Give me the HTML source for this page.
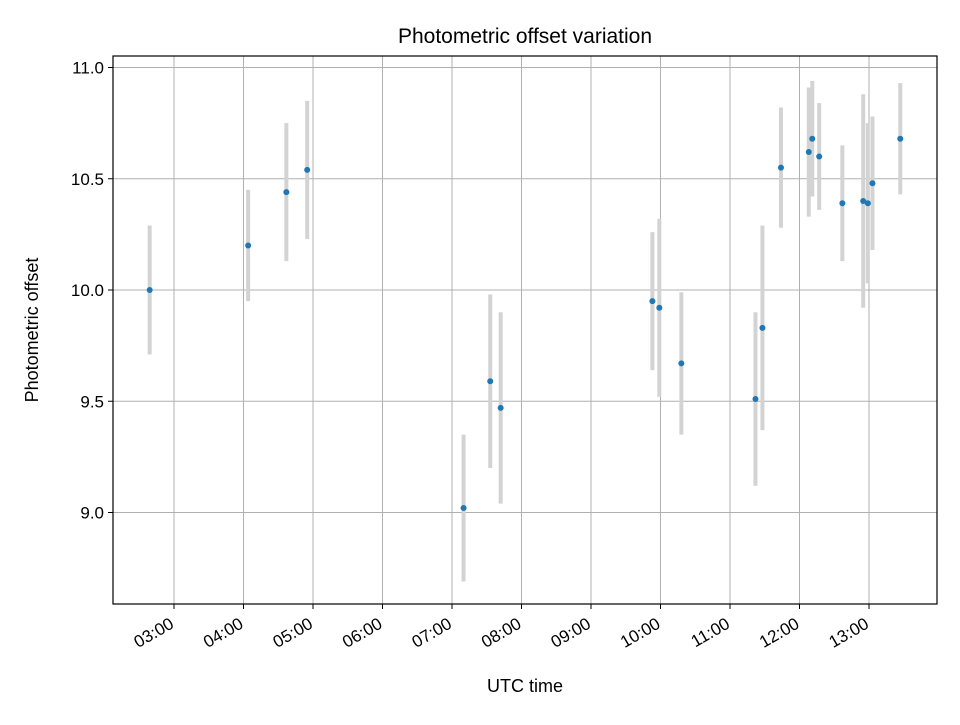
<!DOCTYPE html>
<html><head><meta charset="utf-8"><style>
body{margin:0;background:#fff;}
text{font-family:"Liberation Sans","DejaVu Sans",sans-serif;fill:#000;}
</style></head><body>
<svg id="chart" width="960" height="720" xmlns="http://www.w3.org/2000/svg">
<rect width="960" height="720" fill="#fff"/>
<text x="525" y="43" font-size="21" text-anchor="middle">Photometric offset variation</text>
<g id="grid"></g><g id="bars"></g><g id="pts"></g><g id="ticks"></g>
<rect x="113" y="56" width="824" height="548" fill="none" stroke="#000" stroke-width="1.2"/>
<text x="525" y="692" font-size="18" text-anchor="middle">UTC time</text>
<text transform="translate(38,330) rotate(-90)" font-size="18" text-anchor="middle">Photometric offset</text>
</svg>
<script>
const times=["02:39","04:04","04:37","04:55","07:10","07:33","07:42","09:53","09:59","10:18","11:22","11:28","11:44","12:08","12:11","12:17","12:37","12:55","12:59","13:03","13:27"];
const offsets=[10.00,10.20,10.44,10.54,9.02,9.59,9.47,9.95,9.92,9.67,9.51,9.83,10.55,10.62,10.68,10.60,10.39,10.40,10.39,10.48,10.68];
const errors=[0.29,0.25,0.31,0.31,0.33,0.39,0.43,0.31,0.40,0.32,0.39,0.46,0.27,0.29,0.26,0.24,0.26,0.48,0.36,0.30,0.25];
const xTicks=["03:00","04:00","05:00","06:00","07:00","08:00","09:00","10:00","11:00","12:00","13:00"];
const yTicks=[9.0,9.5,10.0,10.5,11.0];
const NS="http://www.w3.org/2000/svg";
function hrs(t){const p=t.split(":");return +p[0]+(+p[1])/60;}
function xs(t){return 174+(hrs(t)-3)*69.5;}
function ys(v){return 290-(v-10)*222.5;}
function mk(tag,attrs,parent){const e=document.createElementNS(NS,tag);for(const k in attrs)e.setAttribute(k,attrs[k]);document.getElementById(parent).appendChild(e);return e;}
xTicks.forEach(t=>{const x=xs(t);
 const g=mk("line",{x1:x,x2:x,y1:56,y2:604,stroke:"#b0b0b0","stroke-width":1},"grid");
 
 
 mk("line",{x1:x,x2:x,y1:604,y2:609,stroke:"#000"},"ticks");
 const lx=x+1, ly=627;
 const l=mk("text",{x:lx,y:ly,"font-size":"17","text-anchor":"end",transform:`rotate(-30 ${lx} ${ly})`},"ticks");
 l.textContent=t;
 
 
});
yTicks.forEach(v=>{const y=ys(v);
 const g=mk("line",{x1:113,x2:937,y1:y,y2:y,stroke:"#b0b0b0","stroke-width":1},"grid");
 
 
 mk("line",{x1:108,x2:113,y1:y,y2:y,stroke:"#000"},"ticks");
 const l=mk("text",{x:104,y:y+6,"font-size":"17","text-anchor":"end"},"ticks");
 l.textContent=v.toFixed(1);
 
 
});
times.forEach((t,i)=>{const x=xs(t);
 const b=mk("line",{x1:x,x2:x,y1:ys(offsets[i]+errors[i]),y2:ys(offsets[i]-errors[i]),stroke:"#d3d3d3","stroke-width":4},"bars");
 
 
 const c=mk("circle",{cx:x,cy:ys(offsets[i]),r:3,fill:"#1f77b4"},"pts");
 
 
});
</script>
</body></html>
